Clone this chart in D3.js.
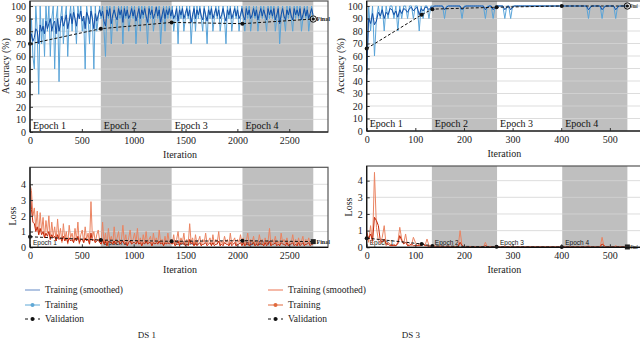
<!DOCTYPE html>
<html>
<head>
<meta charset="utf-8">
<script src="https://cdn.jsdelivr.net/npm/d3@7"></script>
<style>
  body { margin: 0; background: #fff; }
  svg text { font-family: "Liberation Serif", "DejaVu Serif", serif !important; fill: #222; }
  svg text.sansy { font-family: "Liberation Sans Narrow", "Liberation Sans", sans-serif !important; }
</style>
</head>
<body>
<svg id="chart"></svg>
<script>
const EPOCH_LABELS = ["Epoch 1", "Epoch 2", "Epoch 3", "Epoch 4"];
const LEGEND_LABELS = ["Training (smoothed)", "Training", "Validation"];
const ACC_TICKS = [0, 10, 20, 30, 40, 50, 60, 70, 80, 90, 100];
const LOSS_TICKS = [0, 1, 2, 3, 4];
const DS1_X_TICKS = [0, 500, 1000, 1500, 2000, 2500];
const DS3_X_TICKS = [0, 100, 200, 300, 400, 500];

// DS 1
const DS1_STEP = 14;
const DS1_EPOCHS = [0, 683, 1366, 2049, 2732];
const DS1_VAL_ITER = [0, 683, 1366, 2049, 2732];
const DS1_VAL_ACC = [70, 82, 87, 86, 89.7];
const DS1_VAL_LOSS = [0.67, 0.46, 0.38, 0.42, 0.36];
const DS1_ACC_RAW = [
  70,90,60,50,100,80,30,100,70,90, 60,100,80,100,60,90,100,50,90,100, 40,90,
  100,70,90,100,60,90,100,80,100,90, 70,100,90,100,80,90,50,100,90,70, 100,90,50,100,80,90,100,
  90,100,80,60,100,90,100,70,90,100, 90,80,100,90,100,70,100,90,100,80, 90,100,90,100,70,90,100,80,100,90,
  100,90,70,100,90,100,80,90,100,90, 100,70,90,100,80,100,90,100,90,
  100,80,90,100,70,100,90,100,80,90, 100,90,100,70,90,100,80,100,90,100, 90,80,100,90,70,100,90,100,80,90,
  100,90,100,80,90,100,90,70,100,90, 100,80,90,100,90,100,80,90,100,
  90,80,100,90,100,80,90,100,90,100, 80,90,100,90,100,90,80,100,90,100, 90,100,80,90,100,70,90,100,90,80,
  100,90,100,90,80,100,90,100,90,100, 80,90,100,90,100,80,90,100,90
];
const DS1_ACC_SMOOTH = [
  70,78,72,75,82,80,70,85,80,84, 78,88,82,86,90,80,86,88,78,90, 80,86,
  92,84,88,93,82,88,94,86,95,90, 84,94,90,96,88,92,82,95,92,86, 96,90,82,94,88,93,97,
  92,96,88,84,97,92,98,86,93,97, 92,89,98,93,97,87,98,92,97,90, 93,98,92,97,88,93,98,90,97,93,
  98,92,87,98,93,97,90,94,99,92, 97,87,93,98,90,97,93,98,92,
  97,90,93,98,88,97,93,98,90,94, 98,92,97,87,93,98,90,97,93,98, 92,89,98,93,88,97,93,98,90,94,
  98,92,97,90,93,98,92,88,97,93, 98,90,94,98,92,97,90,93,98,
  92,89,98,93,97,90,93,98,92,97, 89,94,98,92,97,93,89,98,93,97, 92,98,89,93,98,86,93,98,92,89,
  97,93,98,92,89,98,93,97,92,98, 89,93,98,92,97,90,94,98,93
];
const DS1_LOSS_RAW = [
  4.0,3.6,2.0,2.5,1.2,2.3,0.8,2.2,1.0,1.9, 0.6,1.7,0.9,2.0,0.5,1.6,0.7,1.3,0.4,1.8, 0.6,1.2,
  0.3,1.5,0.5,1.0,0.2,1.4,0.6,0.9,0.3,1.2, 0.5,1.6,0.2,0.8,1.1,0.3,1.3,0.5,0.9,0.2, 2.9,0.6,1.0,0.3,0.8,1.1,0.4,
  0.2,1.6,0.3,0.9,0.1,1.2,0.4,0.7,0.2,1.3, 0.3,0.6,1.0,0.2,0.5,1.4,0.3,0.8,0.1,0.6, 1.1,0.2,0.5,0.9,0.3,1.2,0.2,0.6,0.1,0.8,
  0.3,1.0,0.2,0.5,0.7,0.1,0.9,0.3,0.6,0.2, 1.1,0.3,0.5,0.1,0.7,0.2,0.9,0.3,0.5,
  0.2,0.8,0.1,0.5,1.0,0.2,0.6,0.3,0.9,0.1, 0.5,0.2,1.5,0.3,0.6,0.1,0.8,0.2,0.4,0.7, 0.1,0.5,0.3,0.9,0.2,0.4,0.6,0.1,0.8,0.2,
  0.5,0.3,1.0,0.1,0.4,0.2,0.7,0.3,0.5,0.1, 0.9,0.2,0.4,0.6,0.1,0.5,0.3,0.8,0.2,
  0.6,0.1,0.4,0.9,0.2,0.5,0.3,0.7,0.1,0.4, 0.2,0.8,0.3,0.5,0.1,0.6,0.2,0.4,1.2,0.1, 0.5,0.3,0.7,0.2,0.4,0.1,0.9,0.3,0.5,0.2,
  0.6,0.1,0.4,0.3,0.8,0.2,0.5,0.1,0.6,0.2, 0.4,0.7,0.1,0.5,0.3,0.6,0.2,0.4,0.3
];
const DS1_LOSS_SMOOTH = [
  3.9,2.4,1.6,1.5,1.0,1.3,0.8,1.2,0.8,1.0, 0.6,0.9,0.7,1.0,0.5,0.8,0.6,0.7,0.4,0.8, 0.5,0.6,
  0.4,0.7,0.4,0.6,0.3,0.6,0.4,0.5,0.3,0.6, 0.4,0.7,0.3,0.5,0.5,0.3,0.6,0.4,0.5,0.2, 0.9,0.4,0.5,0.3,0.4,0.5,0.3,
  0.2,0.5,0.2,0.4,0.1,0.4,0.3,0.3,0.2,0.4, 0.2,0.3,0.4,0.2,0.3,0.4,0.2,0.3,0.1,0.3, 0.4,0.2,0.3,0.3,0.2,0.4,0.2,0.3,0.1,0.3,
  0.2,0.4,0.2,0.3,0.3,0.1,0.3,0.2,0.3,0.2, 0.4,0.2,0.3,0.1,0.3,0.2,0.3,0.2,0.3,
  0.2,0.3,0.1,0.2,0.4,0.1,0.3,0.2,0.3,0.1, 0.2,0.1,0.5,0.2,0.3,0.1,0.3,0.1,0.2,0.3, 0.1,0.2,0.2,0.3,0.1,0.2,0.3,0.1,0.3,0.1,
  0.2,0.2,0.4,0.1,0.2,0.1,0.3,0.2,0.2,0.1, 0.3,0.1,0.2,0.3,0.1,0.2,0.2,0.3,0.1,
  0.3,0.1,0.2,0.3,0.1,0.2,0.2,0.3,0.1,0.2, 0.1,0.3,0.2,0.2,0.1,0.3,0.1,0.2,0.4,0.1, 0.2,0.2,0.3,0.1,0.2,0.1,0.3,0.2,0.2,0.1,
  0.3,0.1,0.2,0.2,0.3,0.1,0.2,0.1,0.3,0.1, 0.2,0.3,0.1,0.2,0.2,0.3,0.1,0.2,0.2
];

// DS 3
const DS3_STEP = 4;
const DS3_EPOCHS = [0, 134, 268, 402, 536];
const DS3_VAL_ITER = [0, 113, 135, 267, 401, 536];
const DS3_VAL_ACC = [66, 93, 97.5, 99, 100, 100];
const DS3_VAL_LOSS = [0.55, 0.2, 0.08, 0.03, 0.02, 0.02];
const DS3_ACC_RAW = [
  40,100,80,100,60,90,100,90,100,80, 100,90,100,100,90,100,80,100,90,100, 100,90,100,100,90,100,100,80,100,90, 100,100,90,100,
  100,100,100,100,100,100,90,100,100,100, 100,100,100,100,100,90,100,100,100,100, 100,100,100,100,100,100,100,90,100,100, 100,90,100,
  100,100,100,100,90,100,100,90,100,100, 100,100,100,100,100,100,100,100,100,100, 100,100,100,100,100,100,100,100,100,100,
  100,100,100,100,100,100,100,100,100,100, 100,100,100,100,100,100,100,90,100,100, 100,100,100,100,90,100,100,100,100,100,
  100,90,100,100,100,100,100
];
const DS3_ACC_SMOOTH = [
  45,90,86,94,85,88,95,92,97,90, 95,93,98,97,93,96,91,97,94,98, 97,95,98,99,96,98,99,93,98,96, 99,99,97,99,
  99,100,100,100,100,100,97,99,100,100, 100,100,100,100,100,97,99,100,100,100, 100,100,100,100,100,100,100,97,99,100, 100,97,99,
  100,100,100,100,97,99,100,97,99,100, 100,100,100,100,100,100,100,100,100,100, 100,100,100,100,100,100,100,100,100,100,
  100,100,100,100,100,100,100,100,100,100, 100,100,100,100,100,100,100,97,99,100, 100,100,100,100,97,99,100,100,100,100,
  100,97,99,100,100,100,100
];
const DS3_LOSS_RAW = [
  1.0,0.3,1.3,0.2,4.5,1.2,0.4,0.2,0.6,1.3, 0.1,0.3,0.2,0.1,0.2,0.1,0.3,1.2,0.5,0.2, 0.8,0.1,0.2,0.1,0.6,0.3,0.1,0.2,0.1,0.2, 0.1,0.5,0.1,0.1,
  0.02,0.1,0.02,0.02,0.1,0.02,0.02,0.02,0.1,0.02, 0.02,0.02,0.02,0.02,1.0,0.1,0.02,0.02,0.02,0.02, 0.02,0.02,0.02,0.02,0.02,0.02,0.02,0.3,0.02,0.02, 0.02,0.02,0.02,
  0.02,0.02,0.02,0.02,0.1,0.02,0.02,0.1,0.02,0.02, 0.02,0.02,0.02,0.02,0.02,0.02,0.02,0.02,0.02,0.02, 0.02,0.02,0.02,0.02,0.02,0.02,0.02,0.02,0.02,0.02,
  0.02,0.02,0.02,0.02,0.02,0.02,0.02,0.02,0.02,0.02, 0.02,0.02,0.02,0.02,0.02,0.02,0.02,0.1,0.02,0.02, 0.02,0.02,0.02,0.02,0.6,0.02,0.02,0.02,0.02,0.02,
  0.02,0.1,0.02,0.02,0.02,0.02,0.02
];
const DS3_LOSS_SMOOTH = [
  0.9,0.5,0.8,0.4,1.8,1.6,1.3,0.4,0.3,0.5, 0.2,0.2,0.1,0.1,0.1,0.1,0.2,0.7,0.4,0.2, 0.3,0.1,0.1,0.2,0.1,0.1,0.1,0.1,0.1,0.2, 0.1,0.1,0.03,0.03,
  0.03,0.03,0.03,0.03,0.03,0.03,0.03,0.03,0.03,0.03, 0.03,0.03,0.03,0.03,0.3,0.1,0.03,0.03,0.03,0.03, 0.03,0.03,0.03,0.03,0.03,0.03,0.03,0.1,0.03,0.03, 0.03,0.03,0.03,
  0.03,0.03,0.03,0.03,0.03,0.03,0.03,0.03,0.03,0.03, 0.03,0.03,0.03,0.03,0.03,0.03,0.03,0.03,0.03,0.03, 0.03,0.03,0.03,0.03,0.03,0.03,0.03,0.03,0.03,0.03,
  0.03,0.03,0.03,0.03,0.03,0.03,0.03,0.03,0.03,0.03, 0.03,0.03,0.03,0.03,0.03,0.03,0.03,0.03,0.03,0.03, 0.03,0.03,0.03,0.03,0.2,0.1,0.03,0.03,0.03,0.03,
  0.03,0.03,0.03,0.03,0.03,0.03,0.03
];

let svgWidth = 640, svgHeight = 339;
let svg = d3.select("#chart")
  .attr("width", svgWidth)
  .attr("height", svgHeight);

const ACC_RAW_COLOR = "#5aa4d8", ACC_SM_COLOR = "#124ea6";
const LOSS_RAW_COLOR = "#ea8462", LOSS_SM_COLOR = "#c4290a";

function drawPanel(p) {
  let x = d3.scaleLinear().domain(p.xDomain).range([p.left, p.right]);
  let y = d3.scaleLinear().domain(p.yDomain).range([p.bottom, p.top]);
  let g = svg.append("g");

  g.append("clipPath").attr("id", p.id).append("rect")
    .attr("x", p.left).attr("y", p.top)
    .attr("width", p.right - p.left).attr("height", p.bottom - p.top);

  // grey bands for epoch 2 and 4
  g.selectAll(".band").data([1, 3]).enter().append("rect")
    .attr("x", i => x(p.epochs[i]))
    .attr("y", p.top)
    .attr("width", i => x(p.epochs[i + 1]) - x(p.epochs[i]))
    .attr("height", p.bottom - p.top)
    .attr("fill", "#bfbfbf");

  g.selectAll(".grid").data(p.yTicks).enter().append("line")
    .attr("x1", p.left).attr("x2", p.right)
    .attr("y1", d => y(d)).attr("y2", d => y(d))
    .attr("stroke", "#d4d4d4").attr("stroke-width", 0.8);

  g.selectAll(".ep").data(EPOCH_LABELS).enter().append("text")
    .attr("class", p.isAcc ? null : "sansy")
    .attr("x", (d, i) => x(p.epochs[i]) + 3)
    .attr("y", p.bottom - p.epDy)
    .style("font-size", p.epSize + "px")
    .style("fill", "#111")
    .text(d => d);

  let line = d3.line().x((d, i) => x(i * p.step)).y(d => y(d));
  let lines = g.append("g").attr("clip-path", "url(#" + p.id + ")");
  lines.append("path").attr("d", line(p.raw))
    .attr("fill", "none").attr("stroke", p.rawColor).attr("stroke-width", 1);
  lines.append("path").attr("d", line(p.smooth))
    .attr("fill", "none").attr("stroke", p.smColor).attr("stroke-width", 1);

  // validation
  let pts = p.valIter.map((it, i) => [it, p.val[i]]);
  let vLine = d3.line().x(d => x(d[0])).y(d => y(d[1]));
  g.append("path").attr("d", vLine(pts))
    .attr("fill", "none").attr("stroke", "#111").attr("stroke-width", 1)
    .attr("stroke-dasharray", "3,2");
  g.selectAll(".vp").data(pts.slice(0, -1)).enter().append("circle")
    .attr("cx", d => x(d[0])).attr("cy", d => y(d[1])).attr("r", 2)
    .attr("fill", "#111");

  let fin = pts[pts.length - 1];
  if (p.isAcc) {
    g.append("circle").attr("cx", x(fin[0])).attr("cy", y(fin[1])).attr("r", 3.2)
      .attr("fill", "none").attr("stroke", "#111").attr("stroke-width", 1);
    g.append("circle").attr("cx", x(fin[0])).attr("cy", y(fin[1])).attr("r", 1.6).attr("fill", "#111");
  } else {
    g.append("rect").attr("x", x(fin[0]) - 2.5).attr("y", y(fin[1]) - 2.5)
      .attr("width", 5).attr("height", 5).attr("fill", "#222");
  }
  let fx = x(fin[0]) + 3.2;
  let finText = g.append("text").attr("x", fx).attr("y", y(fin[1]) + 2)
    .style("font-size", "6px").style("font-weight", "bold").text("Final");
  if (fx + 14 > svgWidth) {
    // squeeze the label so it stays on the page, like the cramped original
    finText.attr("textLength", svgWidth - fx - 2.5).attr("lengthAdjust", "spacingAndGlyphs");
  }

  // axes
  let yAxis = d3.axisLeft(y).tickValues(p.yTicks).tickFormat(d3.format("d"))
    .tickSize(-3).tickPadding(4);
  g.append("g").attr("transform", "translate(" + p.left + ",0)")
    .attr("font-size", 10).attr("color", "#333")
    .call(yAxis).call(a => a.select(".domain").remove());
  let xAxis = d3.axisBottom(x).tickValues(p.xTicks).tickFormat(d3.format("d"))
    .tickSize(-3).tickPadding(5);
  g.append("g").attr("transform", "translate(0," + p.bottom + ")")
    .attr("font-size", 10).attr("color", "#333")
    .call(xAxis).call(a => a.select(".domain").remove());

  // frame
  g.append("rect").attr("x", p.left).attr("y", p.top)
    .attr("width", p.right - p.left).attr("height", p.bottom - p.top)
    .attr("fill", "none").attr("stroke", "#555").attr("stroke-width", 1.2);
  g.append("line").attr("x1", p.left).attr("x2", p.left).attr("y1", p.top).attr("y2", p.bottom)
    .attr("stroke", "#111").attr("stroke-width", 1.2);
  g.append("line").attr("x1", p.left).attr("x2", p.right).attr("y1", p.bottom).attr("y2", p.bottom)
    .attr("stroke", "#111").attr("stroke-width", 1.2);

  // titles
  g.append("text").attr("x", (p.left + Math.min(p.right, 640)) / 2 + 1).attr("y", p.bottom + 26)
    .attr("text-anchor", "middle").style("font-size", "10px").text("Iteration");
  g.append("text")
    .attr("transform", "translate(" + p.yTitleX + "," + p.yTitleY + ") rotate(-90)")
    .attr("text-anchor", "middle").style("font-size", "10px").text(p.yTitle);
}

drawPanel({ id: "c1", isAcc: true, left: 30, right: 328, top: 1, bottom: 132,
  xDomain: [0, 2874], yDomain: [0, 104], xTicks: DS1_X_TICKS, yTicks: ACC_TICKS,
  epochs: DS1_EPOCHS, step: DS1_STEP, raw: DS1_ACC_RAW, smooth: DS1_ACC_SMOOTH,
  valIter: DS1_VAL_ITER, val: DS1_VAL_ACC, rawColor: ACC_RAW_COLOR, smColor: ACC_SM_COLOR,
  epDy: 3, epSize: 10, yTitle: "Accuracy (%)", yTitleX: 9, yTitleY: 66 });

drawPanel({ id: "c2", isAcc: true, left: 366.7, right: 641, top: 1, bottom: 131,
  xDomain: [0, 564], yDomain: [0, 104], xTicks: DS3_X_TICKS, yTicks: ACC_TICKS,
  epochs: DS3_EPOCHS, step: DS3_STEP, raw: DS3_ACC_RAW, smooth: DS3_ACC_SMOOTH,
  valIter: DS3_VAL_ITER, val: DS3_VAL_ACC, rawColor: ACC_RAW_COLOR, smColor: ACC_SM_COLOR,
  epDy: 4, epSize: 10, yTitle: "Accuracy (%)", yTitleX: 344, yTitleY: 66 });

drawPanel({ id: "c3", isAcc: false, left: 30, right: 328, top: 167.3, bottom: 247.3,
  xDomain: [0, 2874], yDomain: [0, 5.08], xTicks: DS1_X_TICKS, yTicks: LOSS_TICKS,
  epochs: DS1_EPOCHS, step: DS1_STEP, raw: DS1_LOSS_RAW, smooth: DS1_LOSS_SMOOTH,
  valIter: DS1_VAL_ITER, val: DS1_VAL_LOSS, rawColor: LOSS_RAW_COLOR, smColor: LOSS_SM_COLOR,
  epDy: 2, epSize: 6.5, yTitle: "Loss", yTitleX: 16, yTitleY: 216 });

drawPanel({ id: "c4", isAcc: false, left: 366.7, right: 641, top: 166, bottom: 247.3,
  xDomain: [0, 564], yDomain: [0, 4.88], xTicks: DS3_X_TICKS, yTicks: LOSS_TICKS,
  epochs: DS3_EPOCHS, step: DS3_STEP, raw: DS3_LOSS_RAW, smooth: DS3_LOSS_SMOOTH,
  valIter: DS3_VAL_ITER, val: DS3_VAL_LOSS, rawColor: LOSS_RAW_COLOR, smColor: LOSS_SM_COLOR,
  epDy: 2, epSize: 6.5, yTitle: "Loss", yTitleX: 352, yTitleY: 207 });

// legends
function drawLegend(x0, smColor, rawColor, title, titleX) {
  let rows = [290, 305, 319];
  let g = svg.append("g");
  g.append("line").attr("x1", x0).attr("x2", x0 + 15).attr("y1", rows[0]).attr("y2", rows[0])
    .attr("stroke", smColor).attr("stroke-width", 1.2);
  g.append("line").attr("x1", x0).attr("x2", x0 + 15).attr("y1", rows[1]).attr("y2", rows[1])
    .attr("stroke", rawColor).attr("stroke-width", 1);
  g.append("circle").attr("cx", x0 + 7.5).attr("cy", rows[1]).attr("r", 2).attr("fill", rawColor);
  g.append("line").attr("x1", x0).attr("x2", x0 + 15).attr("y1", rows[2]).attr("y2", rows[2])
    .attr("stroke", "#111").attr("stroke-width", 1).attr("stroke-dasharray", "3,3.5");
  g.append("circle").attr("cx", x0 + 7.5).attr("cy", rows[2]).attr("r", 2).attr("fill", "#111");
  g.selectAll(".lt").data(LEGEND_LABELS).enter().append("text")
    .attr("x", x0 + 20).attr("y", (d, i) => rows[i] + 3)
    .style("font-size", "9.5px").text(d => d);
  g.append("text").attr("x", titleX).attr("y", 338).attr("text-anchor", "middle")
    .style("font-size", "9px").text(title);
}
drawLegend(25, "#7d9dcf", "#5fa8d6", "DS 1", 147);
drawLegend(268, "#ee8a6e", "#e0693c", "DS 3", 411);
</script>
</body>
</html>
